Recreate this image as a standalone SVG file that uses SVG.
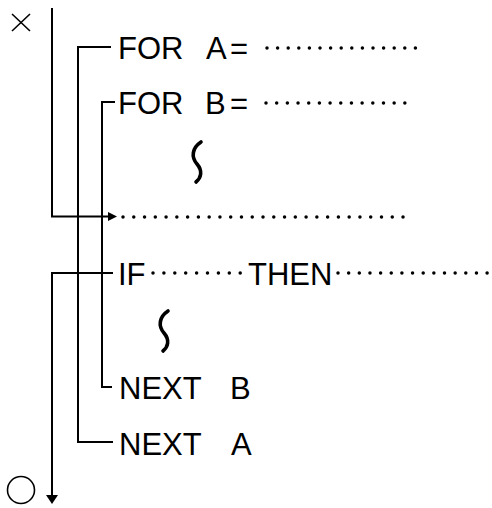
<svg xmlns="http://www.w3.org/2000/svg" width="492" height="508" viewBox="0 0 492 508">
<style>
.t{font-family:"Liberation Sans",Arial,sans-serif;font-size:31px;fill:#000}
.ln{stroke:#000;stroke-width:2;fill:none}
.dot{stroke:#000;stroke-width:3.5;stroke-linecap:round;fill:none}
.sq{stroke:#000;stroke-width:3.6;fill:none;stroke-linecap:round}
</style>
<rect width="492" height="508" fill="#fff"/>
<g id="connectors">
  <path class="ln" d="M52 8 V216.5 H110"/>
  <polygon points="117,216.5 108,212 108,221" fill="#000"/>
  <path class="ln" d="M111 47 H78 V442 H113"/>
  <path class="ln" d="M115 102 H102 V387 H112"/>
  <path class="ln" d="M113 273 H52 V496"/>
  <polygon points="52,504 46,495 58,495" fill="#000"/>
</g>
<g id="start-mark">
  <path d="M12 14 L30 31 M30 14 L12 31" stroke="#000" stroke-width="1.6" fill="none"/>
</g>
<g id="end-mark">
  <circle cx="21" cy="490" r="13.5" stroke="#000" stroke-width="1.6" fill="none"/>
</g>
<g id="for-a">
  <text class="t" x="118" y="59">FOR <tspan x="206">A</tspan><tspan x="230">=</tspan></text>
  <line class="dot" x1="267" y1="48" x2="415.5" y2="48" stroke-dasharray="0 10.6"/>
</g>
<g id="for-b">
  <text class="t" x="118" y="113.5">FOR <tspan x="205">B</tspan><tspan x="230">=</tspan></text>
  <line class="dot" x1="266" y1="103" x2="415.5" y2="103" stroke-dasharray="0 10.68"/>
</g>
<g id="omit-1">
  <path class="sq" d="M201 142 C192 148 191 157 197 164 C203 171 201 178 196 182"/>
</g>
<g id="statement">
  <line class="dot" x1="123" y1="217" x2="403.5" y2="217" stroke-dasharray="0 10.77"/>
</g>
<g id="if-then">
  <text class="t" x="118" y="284.5">IF<tspan x="248">THEN</tspan></text>
  <line class="dot" x1="153" y1="273" x2="240.5" y2="273" stroke-dasharray="0 10.9"/>
  <line class="dot" x1="338" y1="273" x2="487.5" y2="273" stroke-dasharray="0 10.65"/>
</g>
<g id="omit-2">
  <path class="sq" d="M168 311 C159 317 158 326 164 333 C170 340 168 347 163 351"/>
</g>
<g id="next-b">
  <text class="t" x="119" y="398.5">NEXT <tspan x="230">B</tspan></text>
</g>
<g id="next-a">
  <text class="t" x="119" y="454.5">NEXT <tspan x="231">A</tspan></text>
</g>
</svg>
